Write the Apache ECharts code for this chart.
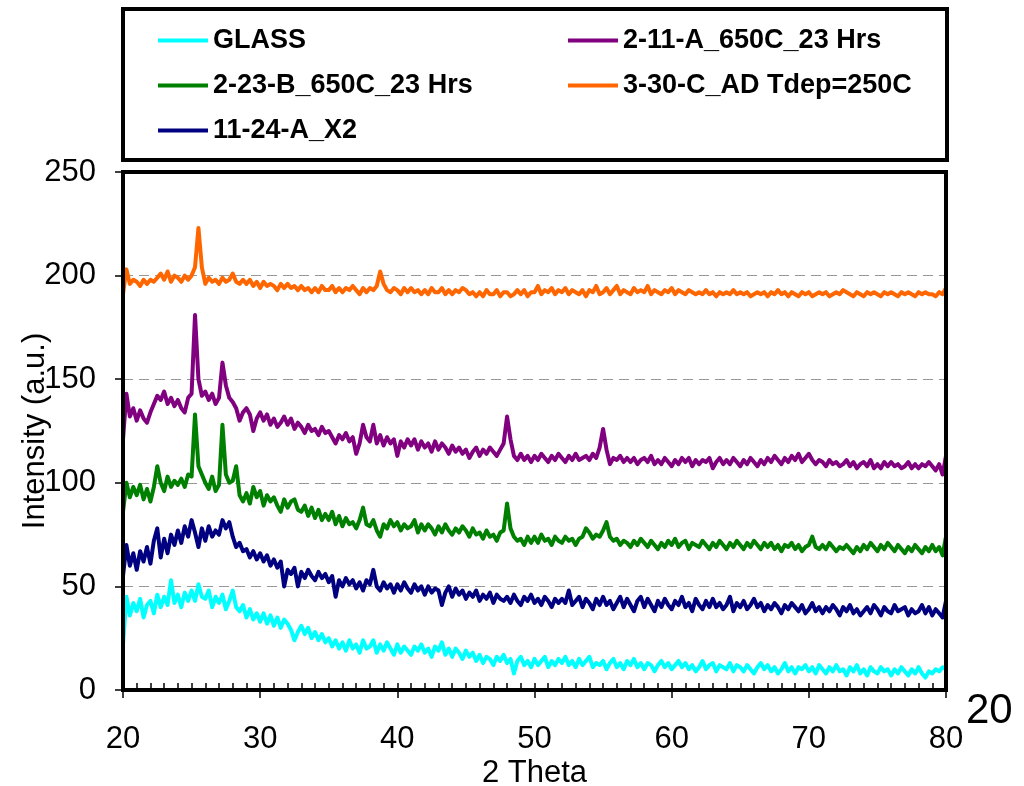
<!DOCTYPE html>
<html>
<head>
<meta charset="utf-8">
<script src="https://cdn.jsdelivr.net/npm/echarts@6/dist/echarts.min.js"></script>
<style>
html,body{margin:0;padding:0;background:#fff;}
#chart{width:1024px;height:786px;}
</style>
</head>
<body>
<div id="chart"></div>
<script>
// ---- data (2 Theta from 20 to 80, step 0.25) ----
const angleStart = 20;
const angleStep = 0.25;
const xTicks = [20, 30, 40, 50, 60, 70, 80];
const yTicks = [0, 50, 100, 150, 200, 250];
const seriesNames = ['GLASS', '2-11-A_650C_23 Hrs', '2-23-B_650C_23 Hrs', '3-30-C_AD Tdep=250C', '11-24-A_X2'];

const glass = [
22,45,36,42, 38,44,35,41, 43,37,46,40, 45,41,53,42, 46,40,47,43,
48,43,51,45, 44,48,40,45, 42,46,39,43, 48,40,38,41, 35,39,34,37,
33,37,32,36, 31,35,30,34, 32,29,24,28, 31,27,30,25, 28,24,27,23,
25,21,24,20, 23,19,24,20, 22,18,24,20, 21,24,18,22, 19,23,20,17,
22,18,21,19, 17,21,19,22, 18,20,16,21, 19,23,17,20, 16,20,18,15,
19,16,18,14, 17,13,16,15, 12,16,14,17, 13,15,8,14, 16,12,14,11,
15,12,14,16, 11,14,12,15, 13,16,12,14, 11,15,12,14, 16,11,13,12,
14,10,13,15, 11,13,10,14, 12,15,11,13, 10,13,12,9, 12,14,11,13,
10,12,14,11, 13,10,12,9, 11,14,10,12, 13,9,12,11, 10,13,9,12,
11,9,12,10, 8,11,13,10, 12,9,11,8, 10,13,9,11, 8,11,10,12,
9,11,8,12, 10,8,11,9, 12,9,10,7, 11,9,12,8, 10,7,11,9,
8,11,9,10, 7,10,8,11, 9,7,10,8, 11,8,6,9, 8,10,9,11,
10];

const navy = [
55,70,60,66, 58,67,62,69, 61,72,78,64, 73,66,75,70, 77,71,79,74,
82,76,69,78, 72,79,74,77, 75,82,78,81, 74,69,71,67, 68,64,67,63,
66,62,65,60, 63,59,62,50, 58,56,59,50, 57,54,58,55, 53,57,54,56,
52,55,45,53, 50,54,51,53, 49,52,48,53, 51,58,50,48, 52,49,51,47,
51,48,52,49, 47,51,48,50, 46,50,47,49, 48,41,47,50, 45,49,46,48,
44,47,45,48, 43,46,44,47, 42,46,44,43, 45,42,46,43, 41,45,43,46,
42,44,41,45, 43,40,44,42, 44,42,48,41, 43,45,40,44, 42,39,44,41,
45,41,43,39, 42,45,40,44, 41,38,43,45, 40,44,41,38, 43,40,44,41,
39,43,41,45, 40,42,38,44, 41,39,43,40, 44,40,42,39, 41,45,38,42,
40,43,39,41, 44,40,42,38, 41,39,42,40, 37,41,39,42, 40,38,41,37,
39,42,38,40, 37,40,38,41, 39,36,40,38, 41,37,39,36, 38,40,37,41,
39,36,40,38, 37,41,38,39, 40,36,39,37, 38,41,37,40, 36,39,37,35,
43];

const green = [
86,100,93,98, 94,99,92,97, 91,98,108,100, 96,103,98,101, 99,102,98,104,
103,133,108,104, 100,97,103,96, 99,128,104,100, 101,108,94,91, 95,90,98,93,
96,89,94,91, 93,89,86,92, 88,91,92,87, 86,89,84,88, 83,87,82,85,
82,86,80,84, 79,83,80,81, 78,82,88,80, 79,82,77,74, 80,78,82,79,
81,77,80,78, 79,82,76,80, 77,80,78,75, 79,76,80,77, 75,78,76,79,
77,74,78,75, 76,73,77,74, 75,72,76,77, 90,78,74,72, 73,70,74,71,
74,71,75,72, 73,70,74,72, 71,74,72,73, 70,73,74,78, 76,73,75,74,
77,81,74,72, 73,70,72,71, 69,72,70,73, 71,69,72,70, 68,71,69,72,
70,73,69,71, 72,68,71,70, 69,72,70,68, 71,69,72,70, 68,71,69,72,
70,68,71,69, 72,70,68,71, 69,71,68,70, 67,70,69,71, 68,70,67,69,
70,74,69,68, 70,68,71,69, 67,69,68,70, 68,66,69,67, 70,68,71,69,
67,70,68,71, 69,67,70,68, 66,69,67,70, 68,66,69,67, 70,67,69,65,
74];

const purple = [
121,143,132,136, 130,135,131,129, 134,138,142,140, 144,138,141,137, 140,136,134,141,
143,181,150,142, 144,140,143,138, 141,158,147,141, 139,136,130,134, 136,133,125,131,
134,130,133,128, 131,127,129,132, 128,131,126,129, 127,124,128,125, 126,123,127,124,
125,122,119,123, 121,124,120,122, 114,119,128,122, 120,128,119,123, 118,122,119,121,
113,120,117,121, 118,121,116,120, 117,119,115,120, 116,119,117,114, 118,115,117,114,
116,112,115,117, 113,116,114,117, 115,113,116,119, 132,121,113,111, 114,111,113,110,
113,111,114,112, 110,113,111,114, 112,110,113,111, 114,111,112,113, 111,114,112,117,
126,116,109,112, 111,113,110,112, 110,112,109,111, 112,110,113,109, 111,109,112,110,
108,111,109,112, 110,112,108,111, 109,111,110,112, 107,110,112,109, 111,109,112,110,
108,111,109,112, 110,108,111,109, 112,110,113,111, 109,112,110,113, 111,114,110,112,
114,111,109,111, 110,108,111,109, 110,108,109,111, 108,110,107,109, 110,108,111,107,
109,107,110,108, 110,108,109,107, 108,110,107,109, 107,109,108,110, 108,106,109,104,
113];

const orange = [
191,203,196,198, 197,195,198,196, 198,197,199,201, 198,202,197,200, 199,197,200,198,
200,204,223,204, 196,199,197,198, 196,199,197,198, 201,197,196,198, 196,198,195,197,
194,197,195,196, 195,193,196,194, 196,194,195,193, 195,193,194,192, 194,192,195,193,
193,195,192,194, 192,194,193,195, 193,191,194,192, 194,193,195,202, 196,193,192,194,
193,191,194,192, 194,192,193,191, 193,191,194,192, 192,194,191,193, 191,193,192,194,
193,191,192,190, 192,190,193,191, 191,193,190,192, 192,190,191,193, 191,193,190,192,
192,195,191,193, 192,194,191,193, 192,194,191,193, 192,191,193,190, 193,192,195,191,
192,194,191,193, 195,191,193,192, 191,194,192,193, 192,195,191,193, 192,191,193,192,
194,191,193,192, 191,193,192,191, 192,191,193,191, 192,190,192,191, 192,191,193,191,
192,191,192,190, 191,192,191,192, 190,192,191,193, 191,192,190,192, 191,190,192,191,
192,190,191,192, 191,192,190,191, 192,191,193,192, 191,190,192,191, 190,192,191,192,
191,190,192,191, 192,191,190,192, 191,192,191,190, 192,191,192,191, 191,190,192,191,
194];

const colors = {
  'GLASS': '#00FFFF',
  '2-11-A_650C_23 Hrs': '#800080',
  '2-23-B_650C_23 Hrs': '#008000',
  '3-30-C_AD Tdep=250C': '#FF6600',
  '11-24-A_X2': '#000080'
};
const valuesByName = {
  'GLASS': glass,
  '2-11-A_650C_23 Hrs': purple,
  '2-23-B_650C_23 Hrs': green,
  '3-30-C_AD Tdep=250C': orange,
  '11-24-A_X2': navy
};

// ---- layout ----
const G = {left: 123, top: 172, right: 78, bottom: 96};
const W = 1024, H = 786;
const FONT = '"Liberation Sans", Arial, sans-serif';

function toPairs(arr) { return arr.map((v, i) => [angleStart + i * angleStep, v]); }

const chart = echarts.init(document.getElementById('chart'), null, {renderer: 'canvas'});

const drawOrder = ['GLASS', '11-24-A_X2', '2-23-B_650C_23 Hrs', '2-11-A_650C_23 Hrs', '3-30-C_AD Tdep=250C'];

const legendText = {fontFamily: FONT, fontWeight: 'bold', fontSize: 27, color: '#000'};

const option = {
  animation: false,
  backgroundColor: '#ffffff',
  grid: {left: G.left, top: G.top, right: G.right, bottom: G.bottom, containLabel: false, outerBoundsMode: 'none'},
  legend: [
    {
      left: 158, top: 27, orient: 'vertical', padding: 0, itemGap: 18,
      itemWidth: 50, itemHeight: 4, icon: 'rect',
      data: ['GLASS', '2-23-B_650C_23 Hrs', '11-24-A_X2'],
      textStyle: legendText, selectedMode: false
    },
    {
      left: 568, top: 27, orient: 'vertical', padding: 0, itemGap: 18,
      itemWidth: 50, itemHeight: 4, icon: 'rect',
      data: ['2-11-A_650C_23 Hrs', '3-30-C_AD Tdep=250C'],
      textStyle: legendText, selectedMode: false
    }
  ],
  xAxis: [
    {
      type: 'value', min: xTicks[0], max: xTicks[xTicks.length - 1], interval: 10,
      name: '2 Theta', nameLocation: 'middle', nameGap: 68, nameMoveOverlap: false,
      nameTextStyle: {fontFamily: FONT, fontSize: 31, color: '#000'},
      axisLine: {show: true, onZero: false, lineStyle: {color: '#000', width: 3}},
      axisTick: {show: true, inside: false, length: 8, lineStyle: {color: '#000', width: 1.5}},
      axisLabel: {fontFamily: FONT, fontSize: 31, color: '#000', margin: 34},
      splitLine: {show: false}
    },
    {
      type: 'value', min: xTicks[0], max: xTicks[xTicks.length - 1], interval: 1,
      position: 'bottom',
      axisLine: {show: false},
      axisTick: {show: true, inside: true, length: 7, lineStyle: {color: '#000', width: 1.5}},
      axisLabel: {show: false},
      splitLine: {show: false}
    }
  ],
  yAxis: {
    type: 'value', min: yTicks[0], max: yTicks[yTicks.length - 1], interval: 50,
    name: 'Intensity (a.u.)', nameLocation: 'middle', nameGap: 72, nameMoveOverlap: false,
    nameTextStyle: {fontFamily: FONT, fontSize: 31, color: '#000'},
    axisLine: {show: true, lineStyle: {color: '#000', width: 3}},
    axisTick: {show: true, inside: false, length: 8, lineStyle: {color: '#000', width: 1.5}},
    axisLabel: {fontFamily: FONT, fontSize: 31, color: '#000', margin: 27},
    splitLine: {show: true, lineStyle: {color: '#999', width: 1.2, type: [10, 6]}}
  },
  series: drawOrder.map(name => ({
    name: name,
    type: 'line',
    xAxisIndex: 0,
    data: toPairs(valuesByName[name]),
    showSymbol: false,
    symbol: 'none',
    smooth: false,
    lineStyle: {color: colors[name], width: 4, join: 'round'},
    itemStyle: {color: colors[name]},
    z: 3
  })),
  graphic: [
    {
      type: 'rect', z: 100, silent: true,
      shape: {x: G.left, y: G.top, width: W - G.left - G.right, height: H - G.top - G.bottom},
      style: {fill: null, stroke: '#000', lineWidth: 4}
    },
    {
      type: 'rect', z: 100, silent: true,
      shape: {x: 123, y: 9, width: 824, height: 151},
      style: {fill: null, stroke: '#000', lineWidth: 4}
    },
    {
      type: 'text', z: 100, silent: true,
      left: 966, top: 690,
      style: {text: '20', fontFamily: FONT, fontSize: 42, fill: '#000'}
    }
  ]
};
chart.setOption(option);
</script>
</body>
</html>
